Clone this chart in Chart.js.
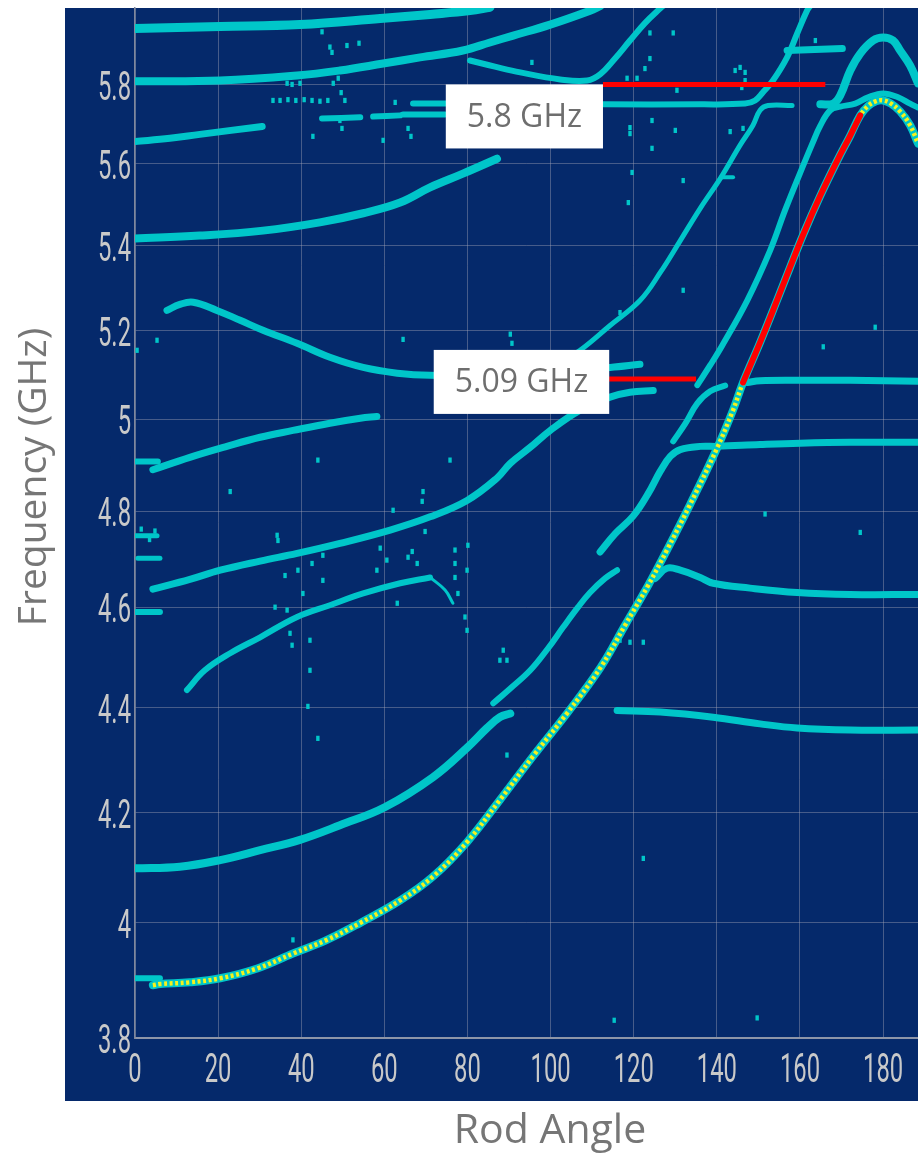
<!DOCTYPE html>
<html>
<head>
<meta charset="utf-8">
<style>
  html, body { margin: 0; padding: 0; background: #ffffff; }
  canvas { display: block; }
</style>
<script src="https://cdn.jsdelivr.net/npm/chart.js@4/dist/chart.umd.min.js"></script>
</head>
<body>
<canvas id="chart" width="918" height="1153"></canvas>
<script>
// ---- Axis ticks ----
const angleTicks = [0, 20, 40, 60, 80, 100, 120, 140, 160, 180];
const freqTicks = [3.8, 4.0, 4.2, 4.4, 4.6, 4.8, 5.0, 5.2, 5.4, 5.6, 5.8];

// ---- Mode branches: [rod angle (deg), frequency (GHz)] ----
const topBranch = [[0,5.946],[20.5,5.951],[39.7,5.956],[59.0,5.972],[71.0,5.983],[80.6,5.993],[85.4,6.002]];
const secondBranch = [[0,5.808],[20.5,5.810],[39.0,5.823],[49.3,5.836],[59.7,5.854],[68.6,5.870],[78.9,5.888],[85.4,5.909],[91.0,5.927],[99.9,5.956],[109.5,5.993],[111.9,6.005]];
const dipBranch = [[80.6,5.862],[86.6,5.846],[92.7,5.831],[102.3,5.813],[108.8,5.810],[111.9,5.826],[115.5,5.867],[119.1,5.914],[122.7,5.960],[126.4,5.999],[127.6,6.01]];
const shortBranch = [[0,5.655],[8.4,5.663],[15.6,5.673],[30.6,5.693]];
const plateauUpper = [[66.9,5.751],[75.8,5.751],[112.6,5.749],[136.0,5.749],[146.8,5.751],[149.2,5.759],[151.1,5.780],[153.5,5.810],[156.9,5.870],[159.3,5.932],[161.7,5.993],[162.5,6.006]];
const plateauDashA = [[45.0,5.713],[54.2,5.716]];
const plateauDashB = [[57.3,5.718],[63.8,5.721]];
const plateauDashC = [[64.5,5.723],[74.6,5.723]];
const steepBranch = [[102.3,5.128],[107.1,5.155],[114.3,5.212],[121.5,5.270],[126.4,5.336],[131.2,5.412],[136.0,5.490],[141.0,5.566],[145.6,5.646],[148.7,5.696],[150.4,5.734],[152.3,5.746],[158.1,5.746]];
const steepTick = [[141.0,5.566],[143.9,5.566]];
const upperBar = [[156.9,5.888],[170.2,5.893]];
const upperArch = [[164.9,5.749],[168.0,5.751],[169.7,5.772],[172.1,5.836],[174.5,5.880],[177.6,5.914],[180.0,5.922],[182.4,5.914],[184.1,5.888],[186.5,5.849],[188.4,5.803]];
const crossingBranch = [[135.3,5.076],[138.4,5.121],[141.3,5.166],[147.3,5.270],[152.8,5.388],[156.4,5.485],[160.0,5.576],[162.9,5.648],[164.9,5.695],[167.3,5.734],[169.7,5.743],[173.3,5.751],[176.4,5.767],[180.0,5.777],[183.6,5.767],[186.5,5.751],[188.4,5.741]];
const band54 = [[0,5.417],[15.6,5.424],[30.8,5.436],[44.5,5.456],[54.9,5.478],[63.8,5.504],[71.0,5.541],[78.9,5.575],[87.1,5.612]];
const band526 = [[7.7,5.247],[10.8,5.261],[14.0,5.266],[19.7,5.247],[25.3,5.224],[30.8,5.201],[39.0,5.171],[46.9,5.139],[54.9,5.116],[63.1,5.103],[71.0,5.098],[83.0,5.100],[97.5,5.109],[114.3,5.116],[121.5,5.123]];
const band49 = [[4.3,4.889],[13.2,4.916],[22.1,4.940],[30.1,4.960],[38.0,4.975],[46.9,4.991],[54.2,5.002],[58.2,5.006]];
const band465 = [[4.3,4.637],[13.2,4.657],[20.5,4.676],[30.1,4.695],[39.0,4.711],[49.3,4.732],[61.4,4.760],[71.0,4.788],[79.9,4.823],[87.1,4.871],[90.3,4.903],[95.1,4.938],[99.9,4.975],[107.1,5.020],[114.3,5.049],[119.1,5.060],[124.7,5.064]];
const band443 = [[12.5,4.434],[16.8,4.473],[22.9,4.507],[30.1,4.539],[39.0,4.580],[46.9,4.604],[54.9,4.628],[63.8,4.649],[71.0,4.661]];
const band443Tail = [[71.0,4.661],[74.6,4.635],[76.5,4.608]];
const band41 = [[0,4.097],[10.8,4.100],[20.5,4.112],[30.1,4.130],[39.7,4.149],[49.3,4.176],[60.2,4.210],[71.7,4.266],[79.9,4.322],[84.7,4.360],[87.8,4.381],[90.3,4.388]];
const band41Upper = [[86.2,4.408],[90.3,4.437],[95.1,4.473],[99.4,4.517],[103.0,4.559],[106.6,4.600],[109.5,4.630],[113.1,4.659],[116.0,4.676]];
const band471 = [[111.9,4.714],[115.5,4.752],[119.9,4.790],[123.5,4.838],[126.4,4.886],[128.8,4.918],[131.2,4.933],[136.0,4.940],[140.1,4.940],[150.4,4.944],[160.0,4.947],[172.1,4.949],[188.4,4.949]];
const band495 = [[129.5,4.951],[132.4,4.990],[135.3,5.035],[138.4,5.062],[142.0,5.075]];
const ledge508 = [[147.3,5.082],[150.4,5.086],[160.0,5.087],[172.1,5.087],[188.4,5.085]];
const ledge465 = [[125.2,4.659],[128.0,4.680],[131.2,4.676],[136.0,4.661],[139.1,4.649],[148.0,4.639],[159.3,4.630],[172.1,4.626],[188.4,4.626]];
const ledge440 = [[116.0,4.394],[126.4,4.391],[139.1,4.381],[150.4,4.368],[159.3,4.360],[172.1,4.356],[188.4,4.356]];
const stub491 = [[0,4.907],[5.5,4.907]];
const stub475 = [[0,4.748],[5.3,4.748]];
const stub470 = [[0.7,4.701],[6.0,4.701]];
const stub459 = [[0,4.590],[6.0,4.590]];
const stub390 = [[0,3.902],[6.0,3.902]];

// Tracked mode (yellow) and its highlighted stretch
const trackedMode = [[4.3,3.890],[6.0,3.892],[13.2,3.895],[20.5,3.902],[29.4,3.919],[38.0,3.945],[46.2,3.969],[54.2,3.999],[63.8,4.039],[71.7,4.082],[79.9,4.145],[87.8,4.223],[95.8,4.306],[104.0,4.389],[111.9,4.477],[117.9,4.563],[123.5,4.645],[128.0,4.718],[133.6,4.815],[140.1,4.937],[143.9,5.020],[146.3,5.082],[150.4,5.173],[154.5,5.271],[157.6,5.348],[160.8,5.427],[164.9,5.521],[169.0,5.608],[172.1,5.670],[174.5,5.721],[176.4,5.745],[178.3,5.757],[180.0,5.759],[181.9,5.751],[184.1,5.731],[186.5,5.696],[188.4,5.650]];
const highlight = [[146.3,5.082],[150.4,5.173],[154.5,5.271],[157.6,5.348],[160.8,5.427],[164.9,5.521],[169.0,5.608],[172.1,5.670],[174.5,5.721]];

// Isolated detections
const strayPoints = [
  [45.0,5.937],[46.9,5.897],[47.4,5.883],[51.0,5.901],[53.9,5.907],
  [47.7,5.803],[48.9,5.816],[49.6,5.779],[50.5,5.759],[49.3,5.708],[49.8,5.688],
  [42.8,5.668],[59.7,5.658],[62.6,5.754],[65.7,5.688],[66.4,5.668],
  [33.2,5.759],[34.9,5.759],[36.8,5.761],[38.7,5.759],[40.7,5.761],[42.6,5.759],[44.5,5.757],[46.4,5.759],
  [36.6,5.803],[37.8,5.800],[39.7,5.803],
  [119.1,5.690],[119.1,5.675],[124.4,5.708],[124.4,5.638],[130.4,5.785],[130.0,5.683],[131.9,5.558],
  [119.6,5.578],[118.7,5.504],[143.2,5.680],[146.3,5.688],[95.5,5.857],[123.9,5.934],[129.5,5.934],
  [123.9,5.867],[122.7,5.841],[163.7,5.914],[131.9,5.294],[118.4,5.816],[120.8,5.816],
  [144.4,5.836],[145.6,5.844],[146.8,5.831],[146.8,5.810],[146.0,5.792],
  [64.5,5.180],[90.3,5.192],[90.7,5.171],[116.7,5.242],[75.8,4.910],[69.3,4.842],[69.1,4.821],
  [69.8,4.757],[66.7,4.715],[77.0,4.718],[80.1,4.728],[79.9,4.676],[165.6,5.163],[178.1,5.208],
  [151.6,4.794],[174.5,4.755],
  [44.0,4.910],[22.9,4.842],[62.1,4.802],[34.2,4.749],[34.4,4.738],[36.1,4.665],[39.2,4.676],
  [40.4,4.628],[42.1,4.533],[42.1,4.473],[41.6,4.402],[33.7,4.600],[36.6,4.594],[37.3,4.547],
  [37.8,4.523],[42.6,4.690],[45.2,4.707],[45.2,4.655],[59.0,4.722],[60.6,4.697],[58.2,4.676],
  [63.1,4.608],[65.7,4.703],[67.9,4.690],[77.0,4.690],[77.0,4.661],[77.7,4.628],[79.4,4.580],
  [79.9,4.553],[87.8,4.493],[88.6,4.513],[89.5,4.493],
  [38.0,3.969],[44.0,4.340],[89.5,4.308],[122.3,4.115],[115.3,3.830],[149.7,3.834],
  [0.5,5.155],[5.3,5.178],[116.7,4.533],[119.1,4.529],[122.3,4.529],
  [1.5,4.762],[3.5,4.740],[4.8,4.758]
];

// ---- Callouts ----
const calloutFreq = [5.8, 5.09];          // GHz
const calloutFrom = [112.6, 114.1];       // rod angle at the box edge
const calloutTo = [166.1, 135.0];         // rod angle where the leader ends

// ---- Styling ----
const NAVY = '#05296b';
const CYAN = '#00c6c9';
const TICK_FONT = "41px Roboto, 'Liberation Sans', sans-serif";
const TICK_SQUEEZE = 0.58;                // narrow, DIN-like numerals
const TEXT_FONT = "'Open Sans', 'Noto Sans', sans-serif";

const toXY = pts => pts.map(([x, y]) => ({ x, y }));
const freqLabel = v => String(Number(Number(v).toFixed(1)));

function branch(points, width, order = 5, color = CYAN) {
  return {
    data: toXY(points),
    borderColor: color,
    borderWidth: width,
    pointRadius: 0,
    fill: false,
    tension: 0.4,
    borderCapStyle: 'round',
    borderJoinStyle: 'round',
    clip: 0,
    order
  };
}

const datasets = [
  branch(topBranch, 9),
  branch(secondBranch, 8),
  branch(dipBranch, 6),
  branch(shortBranch, 7),
  branch(plateauUpper, 6),
  branch(plateauDashA, 6),
  branch(plateauDashB, 6),
  branch(plateauDashC, 6),
  branch(steepBranch, 5),
  branch(steepTick, 4),
  branch(upperBar, 7),
  branch(upperArch, 8),
  branch(crossingBranch, 6),
  branch(band54, 8),
  branch(band526, 7),
  branch(band49, 7),
  branch(band465, 7),
  branch(band443, 6),
  branch(band443Tail, 3),
  branch(band41, 8),
  branch(band41Upper, 6),
  branch(band471, 7),
  branch(band495, 6),
  branch(ledge508, 7),
  branch(ledge465, 7),
  branch(ledge440, 7),
  branch(stub491, 6),
  branch(stub475, 5),
  branch(stub470, 5),
  branch(stub459, 6),
  branch(stub390, 6),
  // cyan trace under the tracked mode
  branch(trackedMode, 8, 4),
  // tracked mode drawn as a yellow dotted line
  Object.assign(branch(trackedMode, 4.5, 3, '#f6f21c'), { borderDash: [3, 2.6], borderCapStyle: 'butt' }),
  // highlighted stretch
  branch(highlight, 6, 2, '#ff0000'),
  // callout leaders
  ...calloutFreq.map((f, i) => Object.assign(
    branch([[calloutFrom[i], f], [calloutTo[i], f]], 5, 1, '#ff0000'),
    { borderCapStyle: 'butt', tension: 0 })),
  {
    type: 'scatter',
    data: toXY(strayPoints),
    pointStyle: 'line',
    rotation: 90,
    pointRadius: 2.6,
    borderWidth: 3.4,
    borderColor: CYAN,
    backgroundColor: CYAN,
    clip: 0,
    order: 6
  }
];

const backdrop = {
  id: 'backdrop',
  beforeDraw(chart) {
    const { ctx, chartArea: a } = chart;
    ctx.save();
    ctx.fillStyle = '#ffffff';
    ctx.fillRect(0, 0, chart.width, chart.height);
    ctx.fillStyle = NAVY;
    ctx.fillRect(a.left - 70, a.top, a.right - a.left + 70, a.bottom - a.top + 63);
    ctx.restore();
  }
};

// Tick labels in a narrow face, placed from the scales' own ticks
const tickLabels = {
  id: 'tickLabels',
  afterDraw(chart) {
    const { ctx } = chart;
    const xs = chart.scales.x, ys = chart.scales.y;
    ctx.save();
    ctx.fillStyle = '#c9c9c9';
    ctx.font = TICK_FONT;
    ctx.textBaseline = 'middle';
    ys.ticks.forEach(t => {
      ctx.save();
      ctx.translate(ys.right - 4, ys.getPixelForValue(t.value) + 5);
      ctx.scale(TICK_SQUEEZE, 1);
      ctx.textAlign = 'right';
      ctx.fillText(freqLabel(t.value), 0, 0);
      ctx.restore();
    });
    xs.ticks.forEach(t => {
      ctx.save();
      ctx.translate(xs.getPixelForValue(t.value), xs.top + 34);
      ctx.scale(TICK_SQUEEZE, 1);
      ctx.textAlign = 'center';
      ctx.fillText(String(t.value), 0, 0);
      ctx.restore();
    });
    ctx.restore();
  }
};

const callouts = {
  id: 'callouts',
  afterDatasetsDraw(chart) {
    const { ctx } = chart;
    const xs = chart.scales.x, ys = chart.scales.y;
    ctx.save();
    ctx.font = '32px ' + TEXT_FONT;
    ctx.textAlign = 'center';
    ctx.textBaseline = 'middle';
    calloutFreq.forEach((f, i) => {
      const label = f + ' GHz';
      const right = xs.getPixelForValue(calloutFrom[i]);
      const yLine = ys.getPixelForValue(f);
      const w = ctx.measureText(label).width + 42;
      const h = 64;
      const top = i === 0 ? yLine : yLine - h / 2 + 3;
      ctx.fillStyle = '#ffffff';
      ctx.fillRect(right - w, top, w, h);
      ctx.fillStyle = '#6e6e6e';
      ctx.fillText(label, right - w / 2, top + h / 2 + 1);
    });
    ctx.restore();
  },
  afterDraw(chart) {
    const { ctx } = chart;
    ctx.save();
    ctx.fillStyle = '#767676';
    ctx.font = '39px ' + TEXT_FONT;
    ctx.textAlign = 'center';
    ctx.textBaseline = 'middle';
    ctx.translate(35, 477);
    ctx.rotate(-Math.PI / 2);
    ctx.fillText('Frequency (GHz)', 0, 0);
    ctx.restore();
    ctx.save();
    ctx.fillStyle = '#767676';
    ctx.font = '41px ' + TEXT_FONT;
    ctx.textAlign = 'center';
    ctx.textBaseline = 'alphabetic';
    ctx.fillText('Rod Angle', 550, 1143);
    ctx.restore();
  }
};

new Chart(document.getElementById('chart'), {
  type: 'line',
  data: { datasets },
  options: {
    responsive: false,
    animation: false,
    events: [],
    layout: { autoPadding: false, padding: { top: 8, right: 0, bottom: 0, left: 0 } },
    plugins: { legend: { display: false }, tooltip: { enabled: false } },
    scales: {
      x: {
        type: 'linear',
        min: 0,
        max: 188.4,
        bounds: 'data',
        afterBuildTicks: s => { s.ticks = angleTicks.map(v => ({ value: v })); },
        afterFit: s => { s.height = 115; s.paddingLeft = 0; s.paddingRight = 0; },
        grid: { color: 'rgba(165,165,180,0.42)', lineWidth: 1, drawTicks: false },
        border: { color: '#8e95a8', width: 2 },
        ticks: { display: false, autoSkip: false }
      },
      y: {
        type: 'logarithmic',
        min: 3.8,
        max: 6.0,
        bounds: 'data',
        afterBuildTicks: s => { s.ticks = freqTicks.map(v => ({ value: v })); },
        afterFit: s => { s.width = 135; s.paddingTop = 0; s.paddingBottom = 0; },
        grid: { color: 'rgba(165,165,180,0.42)', lineWidth: 1, drawTicks: false },
        border: { color: '#7f879c', width: 1.5 },
        ticks: { display: false, autoSkip: false, callback: freqLabel }
      }
    }
  },
  plugins: [backdrop, tickLabels, callouts]
});
</script>
</body>
</html>
